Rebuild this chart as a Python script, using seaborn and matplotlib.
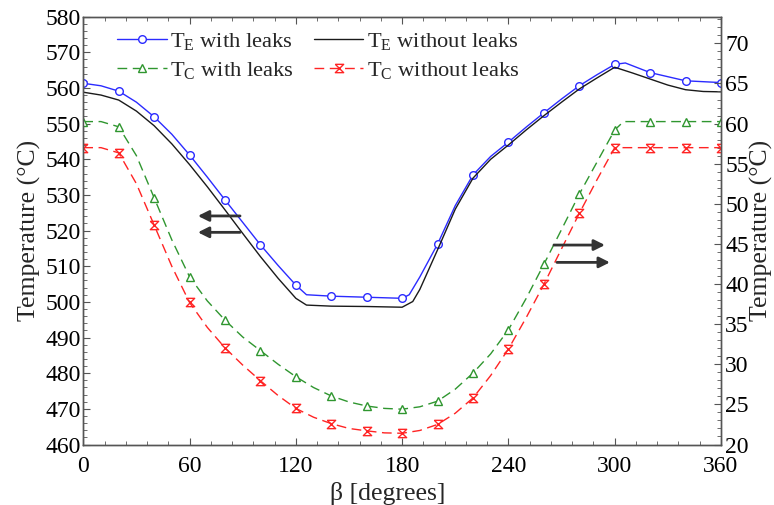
import matplotlib
matplotlib.use("Agg")
import matplotlib.pyplot as plt
from matplotlib.lines import Line2D
from matplotlib.ticker import MultipleLocator
import seaborn as sns

# T_E with leaks (left axis, degC)
beta_te_leak = [0, 10, 20, 30, 40, 50, 60, 70, 80, 90, 100, 110, 120, 126, 140, 160, 180, 184,
                190, 200, 210, 220, 230, 240, 250, 260, 270, 280, 290, 300, 306, 320, 340, 360]
te_leak = [561.3, 560.6, 559.1, 556.0, 551.9, 547.0, 541.2, 535.0, 528.6, 522.3, 516.0, 510.2,
           504.7, 502.0, 501.6, 501.3, 501.0, 502.0, 507.0, 516.2, 527.0, 535.6, 540.8, 544.8,
           549.0, 553.0, 556.9, 560.6, 563.7, 566.6, 567.0, 564.3, 562.0, 561.5]

# T_E without leaks (left axis, degC)
beta_te_noleak = [0, 10, 20, 30, 40, 50, 60, 70, 80, 90, 100, 110, 120, 126, 140, 160, 180, 186,
                  190, 200, 210, 220, 230, 240, 250, 260, 270, 280, 290, 300, 310, 320, 330, 340,
                  350, 360]
te_noleak = [558.8, 558.0, 556.6, 553.5, 549.4, 544.3, 538.5, 532.3, 525.8, 519.2, 512.7, 506.6,
             501.0, 499.1, 498.8, 498.7, 498.5, 500.1, 503.5, 514.6, 526.0, 534.7, 540.0, 544.0,
             548.2, 552.2, 556.0, 559.7, 562.8, 565.8, 564.2, 562.5, 560.8, 559.5, 559.0, 558.9]

# T_C with leaks (right axis, degC)
beta_tc_leak = [0, 10, 20, 30, 40, 50, 60, 70, 80, 90, 100, 110, 120, 130, 140, 150, 160, 170,
                180, 190, 200, 210, 220, 230, 240, 250, 260, 270, 280, 290, 300, 305, 320, 340, 360]
tc_leak = [60.25, 60.25, 59.6, 56.0, 50.75, 45.5, 40.9, 37.9, 35.5, 33.4, 31.7, 30.0, 28.45,
           27.1, 26.05, 25.3, 24.8, 24.5, 24.4, 24.7, 25.4, 26.9, 28.9, 31.3, 34.3, 38.2, 42.45,
           46.8, 51.2, 55.2, 59.2, 60.25, 60.25, 60.25, 60.25]

# T_C without leaks (right axis, degC)
beta_tc_noleak = [0, 10, 20, 30, 40, 50, 60, 70, 80, 90, 100, 110, 120, 130, 140, 150, 160, 170,
                  180, 190, 200, 210, 220, 230, 240, 250, 260, 270, 280, 290, 300, 320, 340, 360]
tc_noleak = [57.0, 57.0, 56.35, 52.5, 47.35, 42.2, 37.7, 34.6, 32.05, 29.9, 27.95, 26.1, 24.5,
             23.4, 22.6, 22.0, 21.7, 21.45, 21.4, 21.75, 22.5, 23.9, 25.8, 28.6, 31.9, 35.8,
             39.95, 44.4, 48.8, 53.0, 57.0, 57.0, 57.0, 57.0]

labels = [r"T$_\mathrm{E}$ with leaks", r"T$_\mathrm{C}$ with leaks",
          r"T$_\mathrm{E}$ without leaks", r"T$_\mathrm{C}$ without leaks"]

BLUE = "#2b2bff"
GREEN = "#2f962f"
RED = "#ff2424"
BLACK = "#1a1a1a"
DASH = (0, (7, 4))
HOURGLASS = [(-1, 1), (1, 1), (-1, -1), (1, -1), (-1, 1)]

sns.set_style("ticks")
plt.rcParams["font.family"] = ["Liberation Serif", "DejaVu Serif"]
plt.rcParams["mathtext.fontset"] = "custom"
plt.rcParams["mathtext.rm"] = "Liberation Serif"
plt.rcParams["mathtext.it"] = "Liberation Serif:italic"
FS_TICK = 17
FS_LEG = 16.2
FS_LAB = 18.5


def every20(xs):
    return [i for i, b in enumerate(xs) if b % 20 == 0]


fig = plt.figure(figsize=(7.74, 5.05), dpi=100)
ax = fig.add_axes([0.1076, 0.1198, 0.8239, 0.8473])
ax2 = ax.twinx()

sns.lineplot(x=beta_te_leak, y=te_leak, ax=ax, color=BLUE, lw=1, marker="o", ms=5.5,
             markevery=every20(beta_te_leak), markerfacecolor="white",
             markeredgecolor=BLUE, markeredgewidth=1)
sns.lineplot(x=beta_te_noleak, y=te_noleak, ax=ax, color=BLACK, lw=1)
sns.lineplot(x=beta_tc_leak, y=tc_leak, ax=ax2, color=GREEN, lw=1, linestyle=DASH,
             marker="^", ms=6, markevery=every20(beta_tc_leak), markerfacecolor="white",
             markeredgecolor=GREEN, markeredgewidth=1)
sns.lineplot(x=beta_tc_noleak, y=tc_noleak, ax=ax2, color=RED, lw=1, linestyle=DASH,
             marker=HOURGLASS, ms=6, markevery=every20(beta_tc_noleak), markerfacecolor="none",
             markeredgecolor=RED, markeredgewidth=1)

ax.set_xlim(0, 360)
ax.set_ylim(460, 580)
ax2.set_ylim(20, 20 + 120 / 2.25)
ax.xaxis.set_major_locator(MultipleLocator(60))
ax.xaxis.set_minor_locator(MultipleLocator(12))
ax.yaxis.set_major_locator(MultipleLocator(10))
ax.yaxis.set_minor_locator(MultipleLocator(2))
ax2.yaxis.set_major_locator(MultipleLocator(5))
ax2.yaxis.set_minor_locator(MultipleLocator(1))

SPINE = "#555555"
for a in (ax, ax2):
    for s in a.spines.values():
        s.set_visible(True)
        s.set_color(SPINE)
        s.set_linewidth(1)
ax.tick_params(axis="x", which="both", direction="in", top=True, colors=SPINE,
               labelcolor="black", labelsize=FS_TICK, pad=8)
ax.tick_params(axis="y", which="both", direction="in", right=False, colors=SPINE,
               labelcolor="black", labelsize=FS_TICK, pad=2)
ax2.tick_params(axis="y", which="both", direction="in", colors=SPINE,
                labelcolor="black", labelsize=FS_TICK, pad=3)
for a in (ax, ax2):
    a.tick_params(which="major", length=5)
    a.tick_params(which="minor", length=3)

ax.set_xlabel("β [degrees]", fontsize=FS_LAB, labelpad=-1)
ax.xaxis.set_label_coords(0.478, -0.088)
ax.set_ylabel("Temperature (°C)", fontsize=FS_LAB, labelpad=3)
ax2.set_ylabel("Temperature (°C)", fontsize=FS_LAB, labelpad=1)

# axis-indicator arrows
arrow = dict(arrowstyle="-|>", color="#333333", lw=2, mutation_scale=16, shrinkA=0, shrinkB=0)
ax.annotate("", xy=(64.7, 524.1), xytext=(88.5, 524.1), arrowprops=arrow)
ax.annotate("", xy=(64.7, 519.5), xytext=(88.5, 519.5), arrowprops=arrow)
ax2.annotate("", xy=(294.5, 44.86), xytext=(265.7, 44.86), arrowprops=arrow)
ax2.annotate("", xy=(297.3, 42.7), xytext=(267.4, 42.7), arrowprops=arrow)

handles = [
    Line2D([], [], color=BLUE, lw=1, marker="o", ms=5.5, mfc="white", mec=BLUE),
    Line2D([], [], color=GREEN, lw=1, ls=DASH, marker="^", ms=6, mfc="white", mec=GREEN),
    Line2D([], [], color=BLACK, lw=1),
    Line2D([], [], color=RED, lw=1, ls=DASH, marker=HOURGLASS, ms=6, mfc="none", mec=RED),
]
ax2.legend(handles, labels, ncol=2, loc="upper left", bbox_to_anchor=(0.03, 1.0),
           frameon=False, fontsize=FS_LEG, handlelength=2.2, handletextpad=0.15,
           columnspacing=0.9, labelspacing=0.35, borderaxespad=0.25)

fig.savefig("out.png", dpi=100)
